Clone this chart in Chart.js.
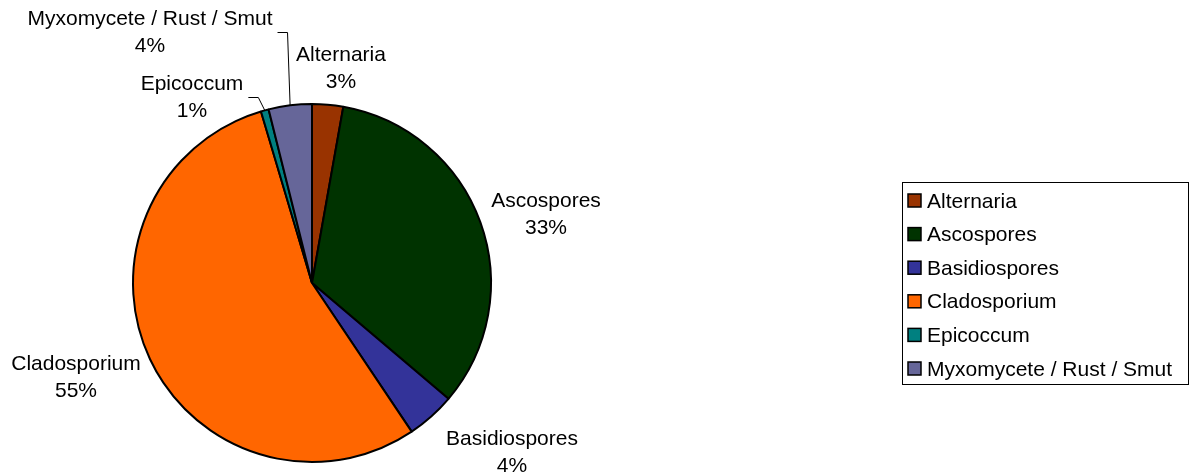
<!DOCTYPE html>
<html>
<head>
<meta charset="utf-8">
<script src="https://cdn.jsdelivr.net/npm/chart.js@4/dist/chart.umd.min.js"></script>
<style>
  body { margin: 0; background: #fff; }
</style>
</head>
<body>
<canvas id="myChart" width="1196" height="474"></canvas>
<script>
// spore types and their share of the total count
var categories = ['Alternaria', 'Ascospores', 'Basidiospores', 'Cladosporium', 'Epicoccum', 'Myxomycete / Rust / Smut'];
var shares = [2.8, 33.4, 4.4, 54.8, 0.7, 3.9];
var colors = ['#993300', '#003300', '#333399', '#FF6600', '#008080', '#666699'];

// where each data label sits (center x, first baseline) and whether it gets a leader line
var labelPos = [[341, 61], [546, 207], [512, 445], [76, 370], [192, 90], [150, 25]];
var labelLeader = [false, false, false, false, true, true];

var FONT = '21px "Liberation Sans", Arial, sans-serif';

var pieLabels = {
    id: 'pieLabels',
    afterDatasetsDraw: function (chart) {
        var c = chart.ctx;
        var ds = chart.data.datasets[0];
        var total = ds.data.reduce(function (a, b) { return a + b; }, 0);
        var arcs = chart.getDatasetMeta(0).data;
        c.save();
        c.font = FONT;
        c.fillStyle = '#000';
        c.textAlign = 'center';
        c.textBaseline = 'alphabetic';
        arcs.forEach(function (arc, i) {
            var p = labelPos[i];
            var name = chart.data.labels[i];
            var pct = Math.round(ds.data[i] / total * 100) + '%';
            c.fillText(name, p[0], p[1]);
            c.fillText(pct, p[0], p[1] + 27);
            if (labelLeader[i]) {
                var mid = (arc.startAngle + arc.endAngle) / 2;
                var ex = arc.x + Math.cos(mid) * arc.outerRadius;
                var ey = arc.y + Math.sin(mid) * arc.outerRadius;
                var sx = p[0] + c.measureText(name).width / 2 + 5;
                var sy = p[1] + 7;
                c.strokeStyle = '#000';
                c.lineWidth = 1;
                c.beginPath();
                c.moveTo(sx, sy + 0.5);
                c.lineTo(sx + 10, sy + 0.5);
                c.lineTo(ex, ey);
                c.stroke();
            }
        });
        c.restore();
    }
};

// legend box on the right, drawn by hand to match the original layout
var boxLegend = {
    id: 'boxLegend',
    afterDraw: function (chart) {
        var c = chart.ctx;
        var ds = chart.data.datasets[0];
        c.save();
        c.strokeStyle = '#000';
        c.lineWidth = 1;
        c.strokeRect(902.5, 182.5, 286, 202);
        c.font = FONT;
        c.textAlign = 'left';
        c.textBaseline = 'alphabetic';
        chart.data.labels.forEach(function (lab, i) {
            var cy = 200 + i * 33.6;
            c.fillStyle = ds.backgroundColor[i];
            c.fillRect(908, cy - 6, 13, 13);
            c.lineWidth = 1.5;
            c.strokeRect(908, cy - 6, 13, 13);
            c.fillStyle = '#000';
            c.fillText(lab, 927, cy + 7.5);
        });
        c.restore();
    }
};

var ctx = document.getElementById('myChart').getContext('2d');
var myPieChart = new Chart(ctx, {
    type: 'pie',
    data: {
        labels: categories,
        datasets: [{
            data: shares,
            backgroundColor: colors,
            borderColor: '#000000',
            borderWidth: 2
        }]
    },
    options: {
        responsive: false,
        animation: false,
        radius: 179,
        layout: { padding: { left: 133, top: 104, right: 705, bottom: 12 } },
        plugins: {
            legend: { display: false },
            tooltip: { enabled: false }
        }
    },
    plugins: [pieLabels, boxLegend]
});
</script>
</body>
</html>
